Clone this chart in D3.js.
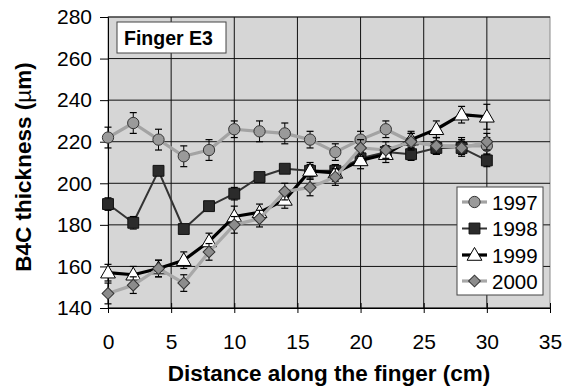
<!DOCTYPE html>
<html><head><meta charset="utf-8">
<script src="https://cdn.jsdelivr.net/npm/d3@7"></script>
<style>body{margin:0;background:#fff}svg{display:block}</style>
</head><body>
<svg id="c" width="564" height="390"></svg>
<script>
const xs = [0,2,4,6,8,10,12,14,16,18,20,22,24,26,28,30];
const s1997 = [222,229,221,213,216,226,225,224,221,215,221,226,220,218,218,218];
const s1998 = [190,181,206,178,189,195,203,207,206,206,212,215,214,217,217,211];
const s1999 = [157,156,159,163,172,184,186,192,206,205,211,214,221,226,233,232];
const s2000 = [147,151,159,152,167,180,183,196,198,203,217,216,220,218,217,220];
const e1997 = [5,5,5,5,5,4,5,5,4,4,4,4,4,4,4,4];
const e1998 = [3,3,2,2,2,3,2,2,3,3,3,3,3,3,3,3];
const e1999 = [4,4,4,4,4,5,4,4,4,4,4,4,4,4,4,6];
const e2000 = [5,4,4,4,4,4,4,4,4,4,4,4,4,4,4,4];
const yearLabels = ["1997","1998","1999","2000"];
const xTicks = [0,5,10,15,20,25,30,35];
const yTicks = [140,160,180,200,220,240,260,280];

const svg = d3.select("#c");
const L=108, R=550, T=17, B=308;
const x = d3.scaleLinear().domain([0,35]).range([L,R]);
const y = d3.scaleLinear().domain([140,280]).range([B,T]);
const font = "Liberation Sans, Arial, sans-serif";

svg.append("rect").attr("x",L).attr("y",T).attr("width",R-L).attr("height",B-T)
  .attr("fill","#d6d6d6").attr("stroke","#8a8a8a").attr("stroke-width",1);

const g = svg.append("g");
g.selectAll("line.hg").data(yTicks).join("line")
  .attr("x1",L).attr("x2",R).attr("y1",d=>y(d)).attr("y2",d=>y(d))
  .attr("stroke","#111").attr("stroke-width",1);
g.selectAll("line.vg").data(xTicks.slice(1,-1)).join("line")
  .attr("y1",T).attr("y2",B).attr("x1",d=>x(d)).attr("x2",d=>x(d))
  .attr("stroke","#111").attr("stroke-width",1);

// axes
const xa = svg.append("g").attr("transform",`translate(0,${B})`)
  .call(d3.axisBottom(x).tickValues(xTicks).tickSize(5).tickPadding(21));
xa.select(".domain").attr("stroke","#000");
xa.selectAll(".tick line").attr("y1",-5).attr("y2",5).attr("stroke","#000");
xa.selectAll("text").attr("font-family",font).attr("font-size",21).attr("fill","#000");
const ya = svg.append("g").attr("transform",`translate(${L},0)`)
  .call(d3.axisLeft(y).tickValues(yTicks).tickSize(8).tickPadding(8));
ya.select(".domain").attr("stroke","#000");
ya.selectAll(".tick line").attr("x1",-8).attr("x2",0).attr("stroke","#000");
ya.selectAll("text").attr("font-family",font).attr("font-size",21).attr("fill","#000");

const series = [
  {vals:s1997, err:e1997, line:"#a3a3a3", lw:3.2, shape:"circle", fill:"#9a9a9a", stroke:"#333"},
  {vals:s1998, err:e1998, line:"#333333", lw:2, shape:"square", fill:"#2b2b2b", stroke:"#111"},
  {vals:s1999, err:e1999, line:"#000000", lw:3.2, shape:"triangle", fill:"#ffffff", stroke:"#000"},
  {vals:s2000, err:e2000, line:"#a8a8a8", lw:3.2, shape:"diamond", fill:"#8c8c8c", stroke:"#333"}
];
const symMap = {circle:d3.symbolCircle, square:d3.symbolSquare, triangle:d3.symbolTriangle, diamond:d3.symbolSquare};
const symSize = {circle:100, square:118, triangle:95, diamond:70};

function marker(sel, s) {
  sel.attr("d", d3.symbol().type(symMap[s.shape]).size(symSize[s.shape])())
    .attr("fill", s.fill).attr("stroke", s.stroke).attr("stroke-width",1);
}
function tf(s, px, py) {
  if (s.shape==="triangle") return `translate(${px},${py+1})`;
  if (s.shape==="diamond") return `translate(${px},${py}) rotate(45)`;
  return `translate(${px},${py})`;
}

series.forEach(s=>{
  const pts = xs.map((xv,i)=>({x:xv, v:s.vals[i], e:s.err[i]}));
  const sg = svg.append("g");
  sg.append("path").datum(pts)
    .attr("d", d3.line().x(d=>x(d.x)).y(d=>y(d.v)))
    .attr("fill","none").attr("stroke",s.line).attr("stroke-width",s.lw).attr("stroke-linejoin","round");
  const eb = sg.selectAll("g.eb").data(pts).join("g");
  eb.append("line").attr("x1",d=>x(d.x)).attr("x2",d=>x(d.x))
    .attr("y1",d=>y(d.v+d.e)).attr("y2",d=>y(d.v-d.e)).attr("stroke","#000").attr("stroke-width",1);
  eb.append("line").attr("x1",d=>x(d.x)-3.5).attr("x2",d=>x(d.x)+3.5)
    .attr("y1",d=>y(d.v+d.e)).attr("y2",d=>y(d.v+d.e)).attr("stroke","#000").attr("stroke-width",1.2);
  eb.append("line").attr("x1",d=>x(d.x)-3.5).attr("x2",d=>x(d.x)+3.5)
    .attr("y1",d=>y(d.v-d.e)).attr("y2",d=>y(d.v-d.e)).attr("stroke","#000").attr("stroke-width",1.2);
  sg.selectAll("path.m").data(pts).join("path")
    .attr("transform",d=>tf(s, x(d.x), y(d.v)))
    .call(sel=>marker(sel,s));
});

// Finger E3 box
svg.append("rect").attr("x",117).attr("y",22).attr("width",109).attr("height",31)
  .attr("fill","#fff").attr("stroke","#444").attr("stroke-width",1);
svg.append("text").attr("x",124).attr("y",45).attr("font-family",font).attr("font-weight","bold")
  .attr("font-size",19.5).text("Finger E3");

// legend
const lg = svg.append("g");
lg.append("rect").attr("x",457).attr("y",187).attr("width",86).attr("height",108)
  .attr("fill","#fff").attr("stroke","#444").attr("stroke-width",1);
const lgY = [202,228.5,255,281];
series.forEach((s,i)=>{
  lg.append("line").attr("x1",462).attr("x2",487).attr("y1",lgY[i]).attr("y2",lgY[i])
    .attr("stroke",s.line).attr("stroke-width",s.lw);
  lg.append("path").attr("transform",tf(s,474.5,lgY[i])).call(sel=>marker(sel,s));
  lg.append("text").attr("x",492).attr("y",lgY[i]+7.5).attr("font-family",font).attr("font-size",20.5)
    .text(yearLabels[i]);
});

// axis titles
svg.append("text").attr("x",329).attr("y",381).attr("text-anchor","middle")
  .attr("font-family",font).attr("font-weight","bold").attr("font-size",22.5)
  .text("Distance along the finger (cm)");
const yt = svg.append("text").attr("transform","translate(31,167) rotate(-90)").attr("text-anchor","middle")
  .attr("font-family",font).attr("font-weight","bold").attr("font-size",22.5);
yt.append("tspan").text("B4C thickness (");
yt.append("tspan").attr("font-weight","normal").text("µ");
yt.append("tspan").text("m)");
</script>
</body></html>
